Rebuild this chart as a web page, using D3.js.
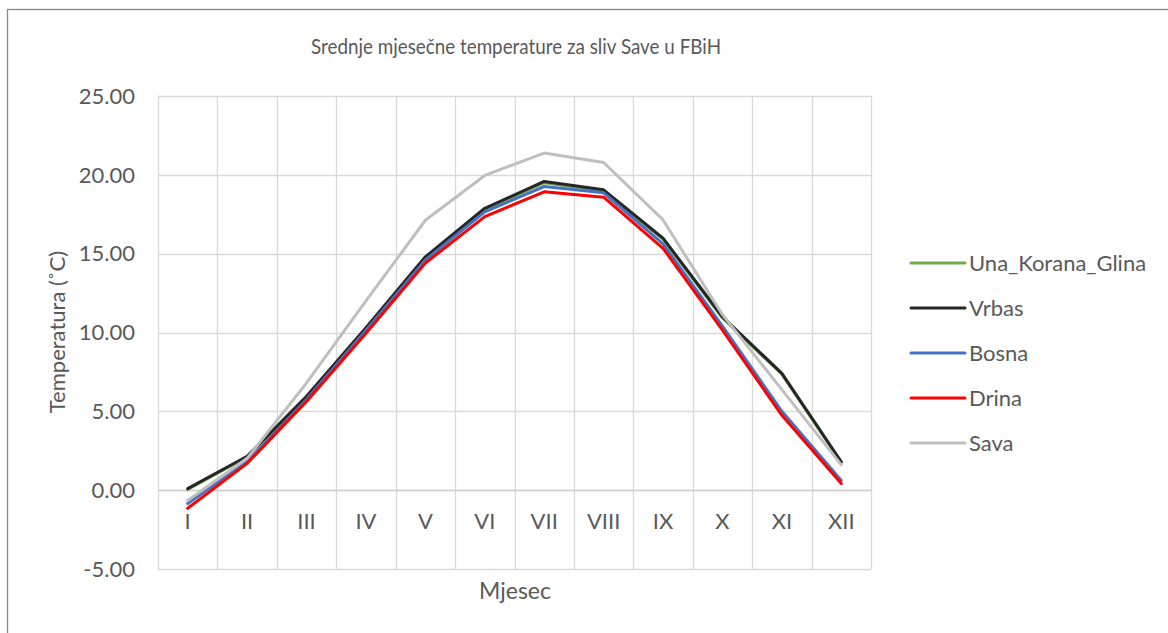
<!DOCTYPE html>
<html>
<head>
<meta charset="utf-8">
<script src="https://cdn.jsdelivr.net/npm/d3@7"></script>
<style>
  body { margin: 0; background: #fff; }
  text { font-family: Lato, "Open Sans", sans-serif; fill: #595959; }
</style>
</head>
<body>
<div id="chart"></div>
<script>
var months = ['I', 'II', 'III', 'IV', 'V', 'VI', 'VII', 'VIII', 'IX', 'X', 'XI', 'XII'];
var yTicks = [-5, 0, 5, 10, 15, 20, 25];

var unaKoranaGlina = [0.05, 2.1, 5.9, 10.25, 14.75, 17.8, 19.5, 18.98, 15.92, 10.92, 7.35, 1.75];
var vrbas = [0.1, 2.15, 5.95, 10.3, 14.8, 17.88, 19.58, 19.05, 15.98, 11.0, 7.41, 1.8];
var bosna = [-0.85, 1.8, 5.75, 10.15, 14.6, 17.65, 19.26, 18.86, 15.62, 10.4, 5.0, 0.62];
var drina = [-1.15, 1.7, 5.62, 9.95, 14.4, 17.35, 18.92, 18.58, 15.34, 10.15, 4.75, 0.42];
var sava = [-0.65, 2.02, 6.8, 12.0, 17.12, 19.96, 21.38, 20.78, 17.14, 11.13, 6.38, 1.6];

var seriesNames = ['Una_Korana_Glina', 'Vrbas', 'Bosna', 'Drina', 'Sava'];
var seriesValues = [unaKoranaGlina, vrbas, bosna, drina, sava];
var seriesColors = ['#70ad47', '#262626', '#4472c4', '#ff0000', '#bfbfbf'];

var width = 1168, height = 633;
var plot = { left: 158, top: 96, right: 871, bottom: 569 };

var svg = d3.select('#chart').append('svg')
    .attr('width', width)
    .attr('height', height);

// chart border (runs off the right and bottom of the picture)
svg.append('rect')
    .attr('x', 7.5).attr('y', 9.5)
    .attr('width', 1200).attr('height', 700)
    .attr('fill', 'none')
    .attr('stroke', '#898989')
    .attr('stroke-width', 1.3);

var x = d3.scaleBand()
    .domain(months)
    .range([plot.left, plot.right]);

var y = d3.scaleLinear()
    .domain([-5, 25])
    .range([plot.bottom, plot.top]);

// horizontal gridlines
svg.append('g')
    .selectAll('line')
    .data(yTicks)
    .enter().append('line')
    .attr('x1', plot.left).attr('x2', plot.right)
    .attr('y1', function (d) { return Math.round(y(d)) + 0.5; })
    .attr('y2', function (d) { return Math.round(y(d)) + 0.5; })
    .attr('stroke', '#d9d9d9')
    .attr('stroke-width', 1.3);

// vertical gridlines at band edges
var edges = months.map(function (m) { return x(m); }).concat([plot.right]);
svg.append('g')
    .selectAll('line')
    .data(edges)
    .enter().append('line')
    .attr('x1', function (d) { return Math.round(d) + 0.5; })
    .attr('x2', function (d) { return Math.round(d) + 0.5; })
    .attr('y1', plot.top).attr('y2', plot.bottom)
    .attr('stroke', '#d9d9d9')
    .attr('stroke-width', 1.3);

// horizontal axis at zero
svg.append('line')
    .attr('x1', plot.left).attr('x2', plot.right)
    .attr('y1', Math.round(y(0)) + 0.5).attr('y2', Math.round(y(0)) + 0.5)
    .attr('stroke', '#d0d0d0')
    .attr('stroke-width', 1.5);

// y tick labels (plain hyphen for the minus sign, as in the original)
svg.append('g')
    .selectAll('text')
    .data(yTicks)
    .enter().append('text')
    .attr('x', 135)
    .attr('y', function (d) { return y(d); })
    .attr('dy', '0.35em')
    .attr('text-anchor', 'end')
    .style('font-size', '22px')
    .text(function (d) { return d3.format('.2f')(d).replace('\u2212', '-'); });

// x tick labels
svg.append('g')
    .selectAll('text')
    .data(months)
    .enter().append('text')
    .attr('x', function (d) { return x(d) + x.bandwidth() / 2; })
    .attr('y', 521)
    .attr('dy', '0.35em')
    .attr('text-anchor', 'middle')
    .style('font-size', '22px')
    .text(function (d) { return d; });

// lines
var line = d3.line()
    .x(function (d, i) { return x(months[i]) + x.bandwidth() / 2; })
    .y(function (d) { return y(d); });

svg.append('g')
    .selectAll('path')
    .data(seriesValues)
    .enter().append('path')
    .attr('d', line)
    .attr('fill', 'none')
    .attr('stroke', function (d, i) { return seriesColors[i]; })
    .attr('stroke-width', 3)
    .attr('stroke-linejoin', 'round')
    .attr('stroke-linecap', 'round');

// title and axis titles; the original face is narrower, so squeeze the title
svg.append('text')
    .attr('x', 516).attr('y', 46)
    .attr('dy', '0.35em')
    .attr('text-anchor', 'middle')
    .attr('textLength', 410)
    .attr('lengthAdjust', 'spacingAndGlyphs')
    .style('font-size', '22px')
    .text('Srednje mjesečne temperature za sliv Save u FBiH');

svg.append('text')
    .attr('x', 515).attr('y', 591)
    .attr('dy', '0.35em')
    .attr('text-anchor', 'middle')
    .style('font-size', '23px')
    .text('Mjesec');

svg.append('text')
    .attr('transform', 'translate(57,332) rotate(-90)')
    .attr('dy', '0.35em')
    .attr('text-anchor', 'middle')
    .style('font-size', '22px')
    .text('Temperatura (˚C)');

// legend
var legend = svg.append('g')
    .selectAll('g')
    .data(seriesNames)
    .enter().append('g')
    .attr('transform', function (d, i) { return 'translate(911,' + (263 + i * 45) + ')'; });

legend.append('line')
    .attr('x1', 0).attr('x2', 54)
    .attr('stroke', function (d, i) { return seriesColors[i]; })
    .attr('stroke-width', 3)
    .attr('stroke-linecap', 'round');

legend.append('text')
    .attr('x', 58)
    .attr('dy', '0.35em')
    .style('font-size', '22px')
    .text(function (d) { return d; });
</script>
</body>
</html>
